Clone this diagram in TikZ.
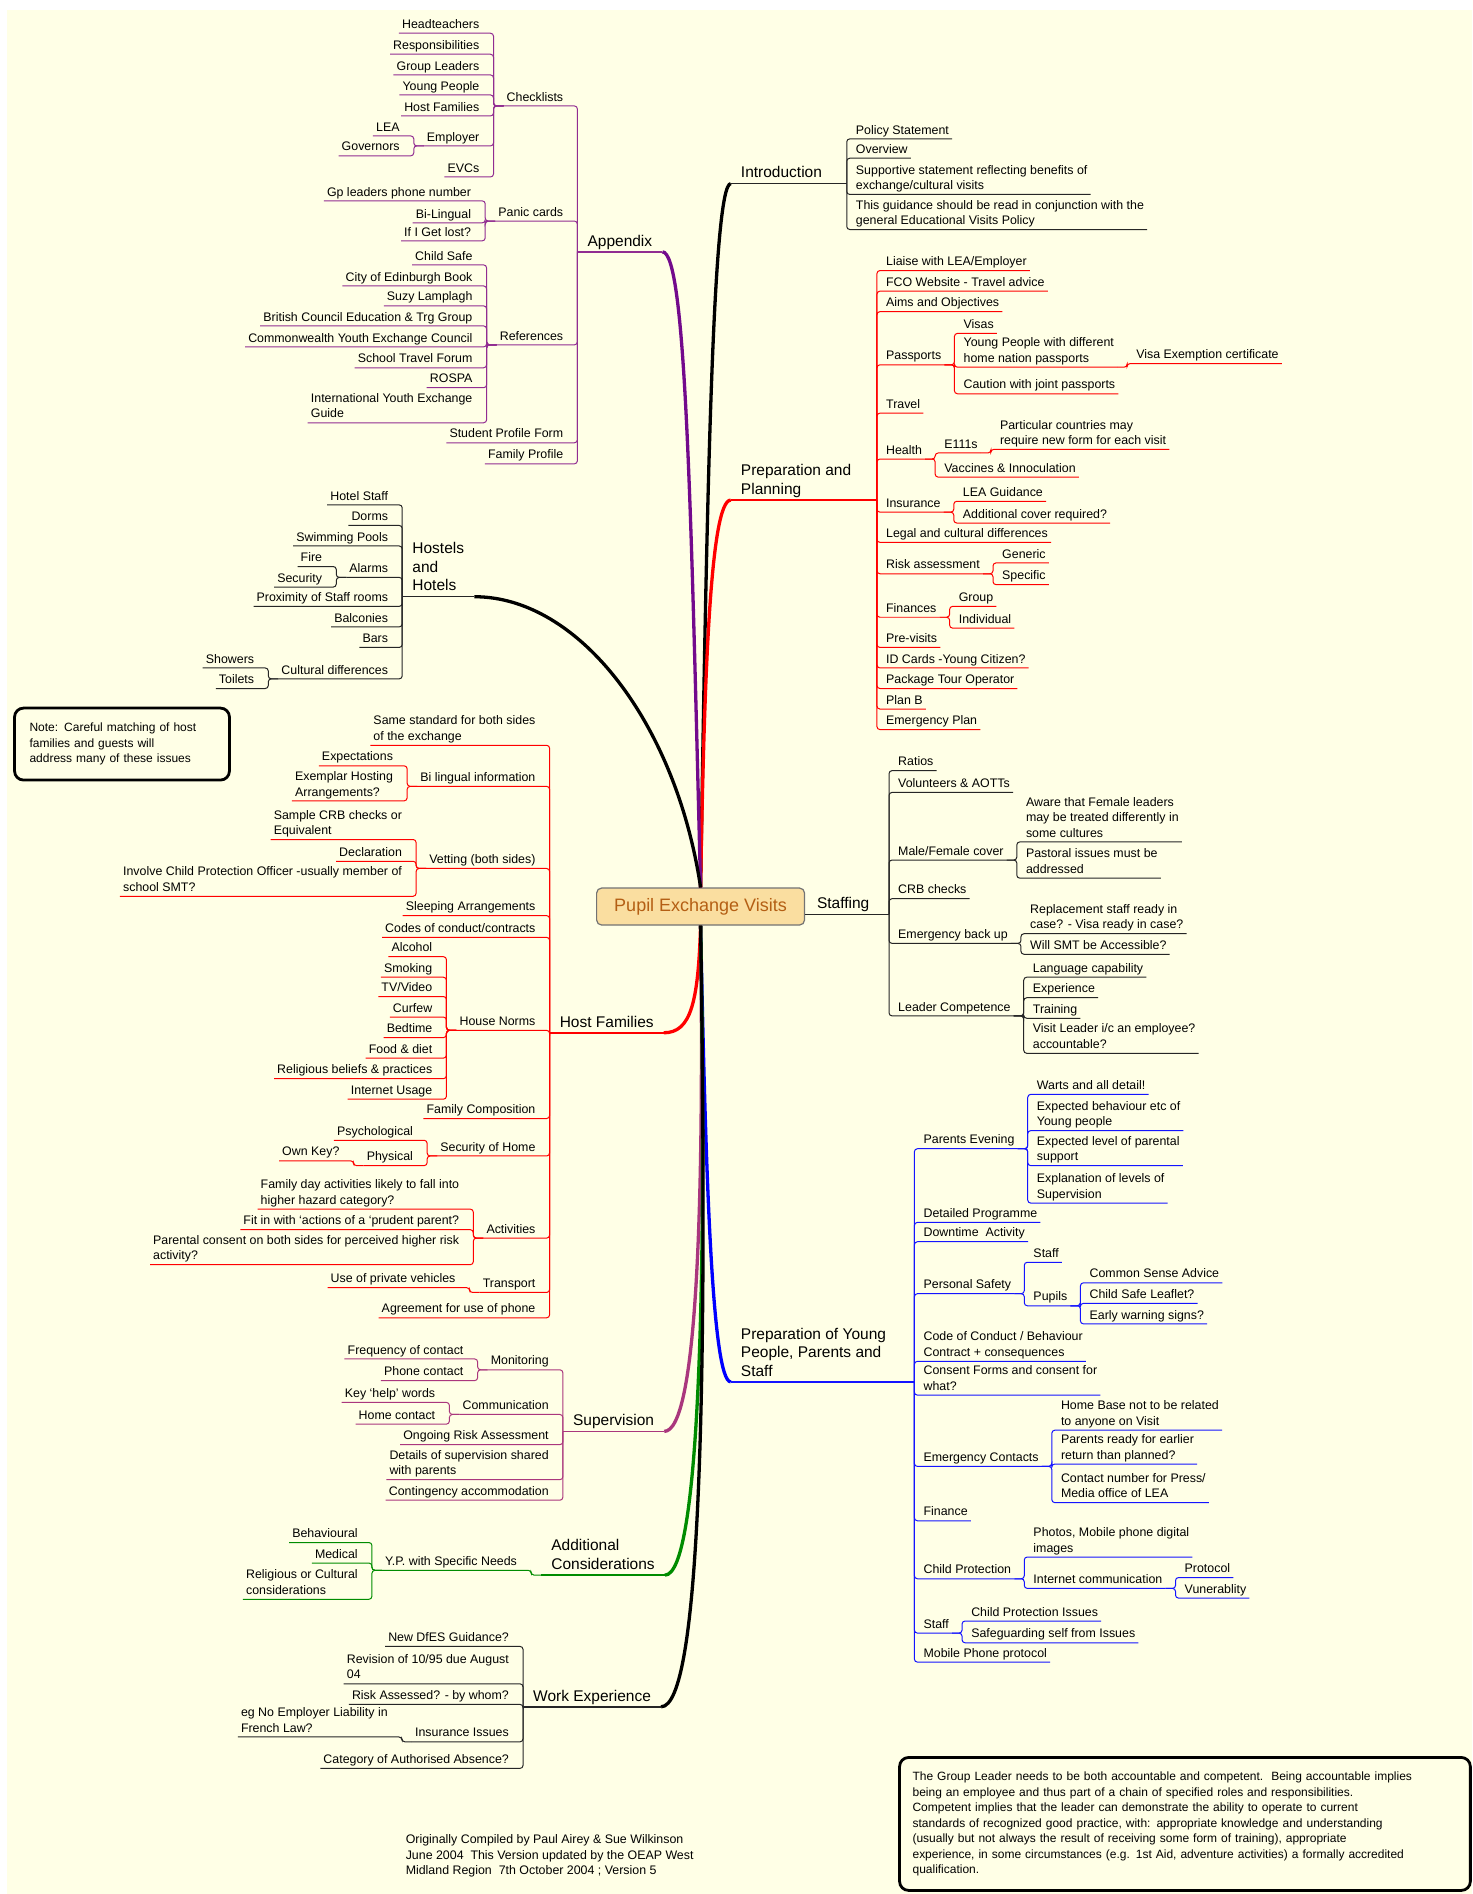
\documentclass[tikz,border=0pt]{standalone}
\usepackage{fontspec}
\setmainfont{Liberation Sans}
\usepackage{tikz}
\definecolor{mapcream}{RGB}{255,255,230}
\definecolor{maptan}{RGB}{250,222,160}
\definecolor{maptitle}{RGB}{180,95,20}
\definecolor{mappurple}{RGB}{115,10,140}
\definecolor{mapplum}{RGB}{145,45,145}
\definecolor{mapmagenta}{RGB}{170,55,125}
\definecolor{mapgreen}{RGB}{0,140,0}
\definecolor{mapblue}{RGB}{20,20,255}
\colorlet{twigc}{black}
\newcommand{\leaffont}{\fontsize{12}{15.5}\selectfont}
\newcommand{\twigfont}{\fontsize{12.4}{15.5}\selectfont}
\newcommand{\labelfont}{\fontsize{15.5}{18.5}\selectfont}
\tikzset{
  leaf/.style={inner xsep=3pt, inner ysep=0pt, font=\twigfont, align=left, execute at end node=\strut},
  lleaf/.style={leaf, anchor=south east},
  rleaf/.style={leaf, anchor=south west},
  blabel/.style={inner xsep=10pt, inner ysep=0pt, font=\labelfont, align=left, execute at end node=\strut},
  twig/.style={draw=twigc, line width=1pt, rounded corners=3pt},
  stem/.style={draw=twigc, line width=1.5pt},
  bough/.style={line width=3.3pt},
  hubbox/.style={draw=black!55, line width=1.2pt, fill=maptan, rounded corners=5pt, minimum width=208pt, minimum height=37pt, font=\fontsize{18}{22}\selectfont, text=maptitle},
  notebox/.style={draw, line width=2.8pt, rounded corners=9pt, align=left, font=\leaffont}
}
\newcommand{\rtop}[2]{\foreach \nm/\yy/\txt in {#2}{%
  \node[rleaf, xshift=6pt] (\nm) at (#1 |- 0,\yy) {\txt};
  \draw[twig] (#1) -- ([xshift=-6pt]\nm.south west) -- (\nm.south east);}}
\newcommand{\rsub}[2]{\foreach \nm/\yy/\txt in {#2}{%
  \node[rleaf, xshift=16pt] (\nm) at (#1.south east |- 0,\yy) {\txt};
  \draw[twig] (#1.south east) -| ([xshift=-6pt]\nm.south west) -- (\nm.south east);}}
\newcommand{\ltop}[2]{\foreach \nm/\yy/\txt in {#2}{%
  \node[lleaf, xshift=-11pt] (\nm) at (#1 |- 0,\yy) {\txt};
  \draw[twig] (#1) -- ([xshift=11pt]\nm.south east) -- (\nm.south west);}}
\newcommand{\lsub}[2]{\foreach \nm/\yy/\txt in {#2}{%
  \node[lleaf, xshift=-21pt] (\nm) at (#1.south west |- 0,\yy) {\txt};
  \draw[twig] (#1.south west) -| ([xshift=11pt]\nm.south east) -- (\nm.south west);}}

\begin{document}
\begin{tikzpicture}[x=1.2084pt,y=-1.2084pt]
\useasboundingbox (0,0) rectangle (1219,1568);
\fill[white] (0,0) rectangle (1219,1568);
\fill[mapcream] (6,8) rectangle (1219,1568);
\node[hubbox] (hub) at (580,750.5) {Pupil Exchange Visits};

% Introduction
\colorlet{twigc}{black!85}
\node[blabel,anchor=south west] (intro) at (605,152) {Introduction};
\coordinate (introj) at (701,152);
\draw[bough,black] (hub.north) .. controls (585,420) and (590,152) .. (intro.south west);
\draw[stem] (intro.south west) -- (introj);
\rtop{introj}{ipol/115/Policy Statement, iovw/131/Overview,
  isup/161/{Supportive statement reflecting benefits of\\exchange/cultural visits},
  igui/190/{This guidance should be read in conjunction with the\\general Educational Visits Policy}}

% Preparation and Planning
\colorlet{twigc}{red}
\node[blabel,anchor=south west] (prep) at (605,414) {Preparation and\\Planning};
\coordinate (prepj) at (726,414);
\draw[bough,red] (hub.north) .. controls (583,560) and (588,414) .. (prep.south west);
\draw[stem] (prep.south west) -- (prepj);
\rtop{prepj}{plia/224/{Liaise with LEA/Employer}, pfco/241/FCO Website - Travel advice,
  paim/258/Aims and Objectives, ppas/302/Passports, ptrv/342/Travel, phea/380/Health,
  pins/424/Insurance, pleg/449/Legal and cultural differences, prsk/475/Risk assessment,
  pfin/511/Finances, ppre/536/Pre-visits, pidc/553/ID Cards -Young Citizen?,
  ppto/570/Package Tour Operator, pplb/587/Plan B, pemp/604/Emergency Plan}
\rsub{ppas}{pvis/276/Visas, pypd/304/{Young People with different\\home nation passports},
  pcjp/326/Caution with joint passports}
\rsub{pypd}{pvex/301/Visa Exemption certificate}
\rsub{phea}{pe111/375/E111s, pvac/395/Vaccines \& Innoculation}
\rsub{pe111}{ppcm/372/{Particular countries may\\require new form for each visit}}
\rsub{pins}{plgd/415/LEA Guidance, pacr/433/Additional cover required?}
\rsub{prsk}{pgen/466/Generic, pspc/484/Specific}
\rsub{pfin}{pgrp/502/Group, pind/520/Individual}

% Staffing
\colorlet{twigc}{black!85}
\node[blabel,anchor=south west] (staff) at (668,757) {Staffing};
\coordinate (staffj) at (736,757);
\draw[stem,line width=1.7pt] (hub.east |- staff.south) -- (staffj);
\rtop{staffj}{srat/638/Ratios, svol/656/Volunteers \& AOTTs, smfc/712/{Male/Female cover},
  scrb/744/CRB checks, sebu/781/Emergency back up, sldc/841/Leader Competence}
\rsub{smfc}{saw/697/{Aware that Female leaders\\may be treated differently in\\some cultures},
  spst/727/{Pastoral issues must be\\addressed}}
\rsub{sebu}{srsr/773/{Replacement staff ready in\\case? - Visa ready in case?},
  ssmt/790/Will SMT be Accessible?}
\rsub{sldc}{slng/809/Language capability, sexp/826/Experience, strn/843/Training,
  svlc/872/{Visit Leader i/c an employee?\\accountable?}}

% Preparation of Young People, Parents and Staff
\colorlet{twigc}{mapblue}
\node[blabel,anchor=south west] (pyp) at (605,1144) {Preparation of Young\\People, Parents and\\Staff};
\coordinate (pypj) at (757,1144);
\draw[bough,blue] (hub.south) .. controls (584,960) and (589,1144) .. (pyp.south west);
\draw[stem] (pyp.south west) -- (pypj);
\rtop{pypj}{ypev/951/Parents Evening, ydtp/1012/Detailed Programme,
  ydta/1028/Downtime\ \ Activity, ypss/1071/Personal Safety,
  ycoc/1127/{Code of Conduct / Behaviour\\Contract + consequences},
  ycfc/1155/{Consent Forms and consent for\\what?}, yemc/1214/Emergency Contacts,
  yfnc/1259/Finance, ychp/1307/Child Protection, ystf/1352/Staff,
  ympp/1376/Mobile Phone protocol}
\rsub{ypev}{ywad/906/Warts and all detail!, yebe/936/{Expected behaviour etc of\\Young people},
  yelp/965/{Expected level of parental\\support}, yels/996/{Explanation of levels of\\Supervision}}
\rsub{ypss}{ypsf/1045/Staff, yppl/1081/Pupils}
\rsub{yppl}{ycsa/1062/Common Sense Advice, ycsl/1079/Child Safe Leaflet?, yews/1096/Early warning signs?}
\rsub{yemc}{yhbr/1184/{Home Base not to be related\\to anyone on Visit},
  yprd/1212/{Parents ready for earlier\\return than planned?},
  ycnp/1244/{Contact number for Press/\\Media office of LEA}}
\rsub{ychp}{ypmp/1289/{Photos, Mobile phone digital\\images}, yinc/1315/Internet communication}
\rsub{yinc}{yprt/1306/Protocol, yvnr/1323/Vunerablity}
\rsub{ystf}{ycpi/1342/Child Protection Issues, ysgs/1360/Safeguarding self from Issues}

% Appendix
\colorlet{twigc}{mapplum}
\node[blabel,anchor=south west] (app) at (478,208.5) {Appendix};
\draw[bough,mappurple] (hub.north) .. controls (572,420) and (568,208.5) .. (app.south east);
\draw[stem] (app.south east) -- (app.south west);
\ltop{app.south west}{achk/87.7/Checklists, apnc/183/Panic cards, aref/285.5/References,
  aspf/366.6/Student Profile Form, afpr/384/Family Profile}
\lsub{achk}{ahdt/27.5/Headteachers, arsp/44.9/Responsibilities, agld/62/Group Leaders,
  aypp/78.6/Young People, ahfm/96/Host Families, aemr/120.8/Employer, aevc/146.5/EVCs}
\lsub{aemr}{alea/112.5/LEA, agov/129/Governors}
\lsub{apnc}{agpl/166.3/Gp leaders phone number, abil/184.5/Bi-Lingual, aigl/199.4/If I Get lost?}
\lsub{aref}{achs/219.3/Child Safe, aceb/236.7/City of Edinburgh Book, asuz/253.2/Suzy Lamplagh,
  abce/269.8/British Council Education \& Trg Group, acyc/287.2/Commonwealth Youth Exchange Council,
  astf/304.5/School Travel Forum, arsa/321/ROSPA, aiye/350/{International Youth Exchange\\Guide}}

% Hostels and Hotels
\colorlet{twigc}{black!85}
\node[blabel,anchor=south west] (hostel) at (333,494) {Hostels\\and\\Hotels};
\draw[bough,black] (hub.north) .. controls (560,600) and (480,494) .. (hostel.south east);
\draw[stem] (hostel.south east) -- (hostel.south west);
\ltop{hostel.south west}{hhst/418/Hotel Staff, hdrm/435/Dorms, hswp/452/Swimming Pools,
  halm/478/Alarms, hpsr/502/Proximity of Staff rooms, hbal/519/Balconies, hbar/536/Bars,
  hcud/562/Cultural differences}
\lsub{halm}{hfir/469/Fire, hsec/486/Security}
\lsub{hcud}{hshw/553/Showers, htoi/570/Toilets}

% Host Families
\colorlet{twigc}{red}
\node[blabel,anchor=south west] (hfam) at (455,855) {Host Families};
\draw[bough,red] (hub.south) .. controls (578,830) and (572,855) .. (hfam.south east);
\draw[stem] (hfam.south east) -- (hfam.south west);
\ltop{hfam.south west}{fsst/617/{Same standard for both sides\\of the exchange},
  fbli/651/Bi lingual information, fvet/719/Vetting (both sides),
  fsla/758/Sleeping Arrangements, fcoc/776/{Codes of conduct/contracts},
  fhno/853/House Norms, ffco/926/Family Composition, fsoh/957/Security of Home,
  fact/1025/Activities, ftra/1070/Transport, fagr/1091/Agreement for use of phone}
\lsub{fbli}{fexs/634/Expectations, fexh/663/{Exemplar Hosting\\Arrangements?}}
\lsub{fvet}{fscc/695/{Sample CRB checks or\\Equivalent}, fdec/713/Declaration,
  ficp/742/{Involve Child Protection Officer -usually member of\\school SMT?}}
\lsub{fhno}{falc/792/Alcohol, fsmk/809/Smoking, ftvv/825/{TV/Video}, fcfw/842/Curfew,
  fbdt/859/Bedtime, ffdd/876/Food \& diet, frbp/893/Religious beliefs \& practices,
  finu/910/Internet Usage}
\lsub{fsoh}{fpsy/944/Psychological, fphy/965/Physical}
\lsub{fphy}{fown/961/Own Key?}
\lsub{fact}{ffda/1001/{Family day activities likely to fall into\\higher hazard category?},
  ffit/1018/Fit in with `actions of a `prudent parent?,
  fpcs/1047/{Parental consent on both sides for perceived higher risk\\activity?}}
\lsub{ftra}{fupv/1066/Use of private vehicles}

% Supervision
\colorlet{twigc}{mapmagenta}
\node[blabel,anchor=south west] (superv) at (466,1185) {Supervision};
\draw[bough,mapmagenta] (hub.south) .. controls (583,1000) and (577,1185) .. (superv.south east);
\draw[stem] (superv.south east) -- (superv.south west);
\ltop{superv.south west}{umon/1134/Monitoring, ucom/1171/Communication,
  uora/1196/Ongoing Risk Assessment, udss/1225/{Details of supervision shared\\with parents},
  ucac/1242/Contingency accommodation}
\lsub{umon}{ufoc/1125/Frequency of contact, uphc/1143/Phone contact}
\lsub{ucom}{ukhw/1161/Key `help' words, uhmc/1179/Home contact}

% Additional Considerations
\colorlet{twigc}{mapgreen}
\node[blabel,anchor=south west] (addc) at (448,1304) {Additional\\Considerations};
\draw[bough,mapgreen] (hub.south) .. controls (585,1050) and (580,1304) .. (addc.south east);
\draw[stem] (addc.south east) -- (addc.south west);
\lsub{addc}{dyps/1300/Y.P. with Specific Needs}
\lsub{dyps}{dbeh/1277/Behavioural, dmed/1294/Medical, drcc/1324/{Religious or Cultural\\considerations}}

% Work Experience
\colorlet{twigc}{black!85}
\node[blabel,anchor=south west] (wexp) at (433,1413) {Work Experience};
\draw[bough,black] (hub.south) .. controls (586,1150) and (580,1413) .. (wexp.south east);
\draw[stem] (wexp.south east) -- (wexp.south west);
\ltop{wexp.south west}{wndg/1363/New DfES Guidance?, wrev/1394/{Revision of 10/95 due August\\04},
  wras/1411/Risk Assessed? - by whom?, wiss/1442/Insurance Issues,
  wcat/1464/Category of Authorised Absence?}
\lsub{wiss}{wenl/1438/{eg No Employer Liability in\\French Law?}}

% notes
\node[notebox, minimum width=215pt, minimum height=72pt, text width=185pt] (note) at (101,616)
  {Note: Careful matching of host\\families and guests will\\address many of these issues};
\node[notebox, minimum width=571pt, minimum height=133pt, text width=545pt] (leadnote) at (981,1510)
  {The Group Leader needs to be both accountable and competent.\ \ Being accountable implies\\
   being an employee and thus part of a chain of specified roles and responsibilities.\\
   Competent implies that the leader can demonstrate the ability to operate to current\\
   standards of recognized good practice, with: appropriate knowledge and understanding\\
   (usually but not always the result of receiving some form of training), appropriate\\
   experience, in some circumstances (e.g. 1st Aid, adventure activities) a formally accredited\\
   qualification.};
\node[anchor=north west, align=left, font=\twigfont] (credit) at (333,1516)
  {Originally Compiled by Paul Airey \& Sue Wilkinson\\
   June 2004\ \ This Version updated by the OEAP West\\
   Midland Region\ \ 7th October 2004 ; Version 5};
\end{tikzpicture}
\end{document}
